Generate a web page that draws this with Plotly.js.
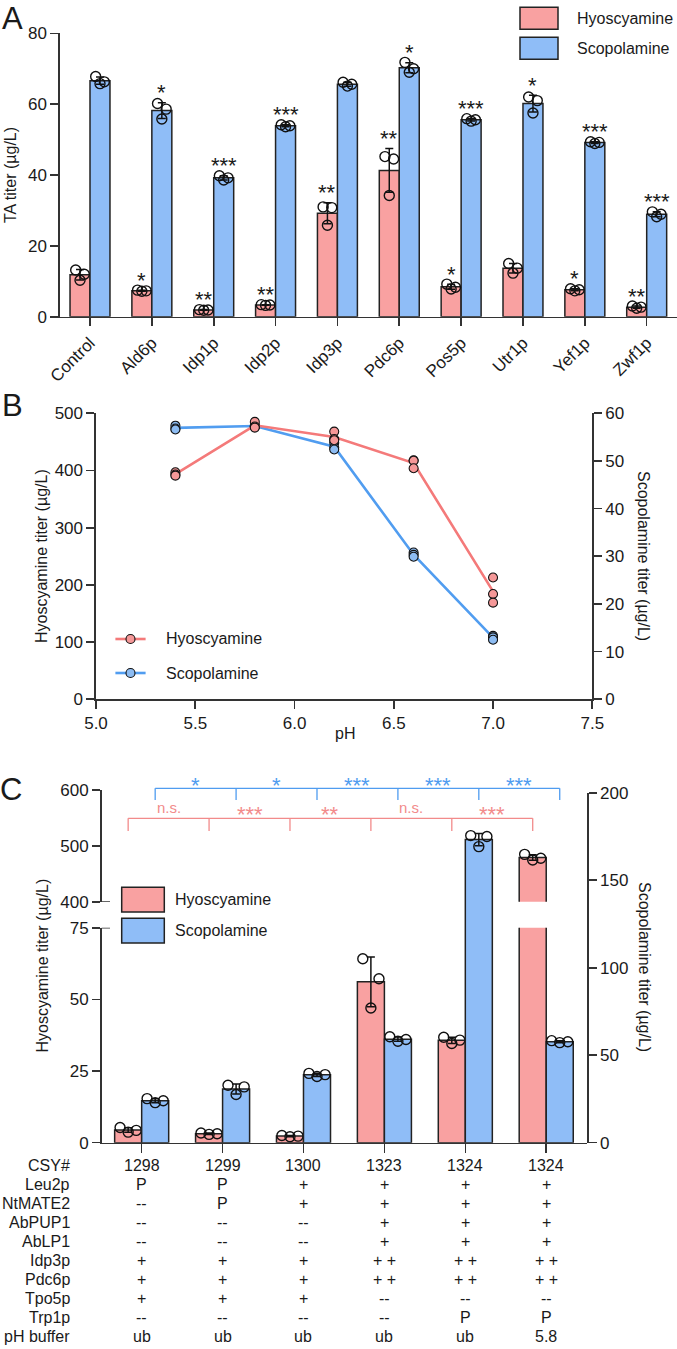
<!DOCTYPE html>
<html><head><meta charset="utf-8">
<script src="https://cdn.plot.ly/plotly-3.0.1.min.js"></script>
<style>html,body{margin:0;padding:0;background:#fff}</style>
</head><body><div id="chart" style="width:677px;height:1349px"></div>
<script>
// ---------------- Panel A data ----------------
const catsA = ['Control','Ald6p','Idp1p','Idp2p','Idp3p','Pdc6p','Pos5p','Utr1p','Yef1p','Zwf1p'];
const hyoA = [[13.2,12.0,10.3],[7.5,7.3,7.2],[2.0,1.9,1.8],[3.4,3.3,3.2],[31.0,30.8,25.8],[45.2,44.5,34.2],[9.2,8.3,7.8],[15.0,13.7,12.3],[7.9,7.6,7.3],[3.0,2.7,2.4]];
const scopA = [[67.8,66.3,65.8],[60.2,58.6,55.8],[39.8,39.2,38.6],[54.2,53.9,53.6],[66.2,65.6,65.1],[71.8,70.0,69.0],[55.9,55.6,55.2],[62.0,61.0,57.5],[49.4,49.2,48.9],[29.6,28.9,28.2]];
const sigHyoA = ['','*','**','**','**','**','*','','*','**'];
const sigScopA = ['','*','***','***','','*','***','*','***','***'];
const ticksA = [0,20,40,60,80];

// ---------------- Panel B data ----------------
const phB = [5.4,5.8,6.2,6.6,7.0];
const hyoB = [[397,393,391],[485,477,475],[468,455,453],[418,417,404],[213,184,169]];
const scopB = [[57.4,56.8,56.6],[57.5,57.3,57.2],[53.8,52.8,52.4],[30.8,30.3,29.9],[13.3,13.0,12.5]];
const ticksPH = [5.0,5.5,6.0,6.5,7.0,7.5];

// ---------------- Panel C data ----------------
const strainsC = ['1298','1299','1300','1323','1324','1324'];
const hyoC = [[5.3,4.3,3.7],[3.4,3.1,2.9],[2.5,2.3,2.1],[64.2,57.2,47.0],[36.8,35.8,34.6],[485,478,475]];
const scopC = [[25.2,24.0,22.9],[32.8,31.9,27.5],[39.6,38.9,37.8],[60.5,59.0,58.0],[175.5,175.0,169.2],[58.3,57.7,57.2]];
const sigHyoC = ['n.s.','***','**','n.s.','***'];
const sigScopC = ['*','*','***','***','***'];
const rowLabelsC = ['CSY#','Leu2p','NtMATE2','AbPUP1','AbLP1','Idp3p','Pdc6p','Tpo5p','Trp1p','pH buffer'];
const rowLeu2p   = ['P','P','+','+','+','+'];
const rowNtMATE2 = ['--','P','+','+','+','+'];
const rowAbPUP1  = ['--','--','--','+','+','+'];
const rowAbLP1   = ['--','--','--','+','+','+'];
const rowIdp3p   = ['+','+','+','+ +','+ +','+ +'];
const rowPdc6p   = ['+','+','+','+ +','+ +','+ +'];
const rowTpo5p   = ['+','+','+','--','--','--'];
const rowTrp1p   = ['--','--','--','--','P','P'];
const rowPH      = ['ub','ub','ub','ub','ub','5.8'];
const ticksCLow = [0,25,50,75];
const ticksCHigh = [400,500,600];
const ticksCRight = [0,50,100,150,200];

// ---------------- helpers ----------------
const W = 677, H = 1349;
const X = p => p / W, Y = p => 1 - p / H;
const FONT = 'Liberation Sans, Arial, Helvetica, sans-serif';
const mean = a => a.reduce((s, v) => s + v, 0) / a.length;
const sd = a => { const m = mean(a); return Math.sqrt(a.reduce((s, v) => s + (v - m) ** 2, 0) / (a.length - 1)); };
const COL = {hyo:'#f9a1a1', scop:'#8fbdf7', hyoLine:'#f47a7a', scopLine:'#519df0', hyoMk:'#f59898', scopMk:'#8dbcf2', edge:'#222', axis:'#333', txt:'#1a1a1a', sigRed:'#f28b8b', sigBlue:'#4f9cf0'};

const traces = [];
const shapes = [];
const anns = [];
function ann(text, xp, yp, o = {}) {
  anns.push(Object.assign({text, x: X(xp), y: Y(yp), xref:'paper', yref:'paper', showarrow:false,
    xanchor:'center', yanchor:'middle', font:{family:FONT, size:16, color:COL.txt}}, o));
}
function barTrace(xs, reps, width, offset, color, xa, ya) {
  return {type:'bar', x:xs, y:reps.map(mean), width:width, offset:offset, xaxis:xa, yaxis:ya,
    marker:{color:color, line:{color:COL.edge, width:1.5}},
    error_y:{type:'data', array:reps.map(sd), visible:true, color:'#111', thickness:1.5, width:4},
    hoverinfo:'skip', cliponaxis:true};
}
function ptsTrace(xs, reps, center, jit, xa, ya) {
  const px = [], py = [];
  reps.forEach((r, i) => r.forEach((v, j) => { px.push(xs[i] + center + jit[j % jit.length]); py.push(v); }));
  return {type:'scatter', mode:'markers', x:px, y:py, xaxis:xa, yaxis:ya, cliponaxis:true,
    marker:{symbol:'circle-open', size:10, color:'#111', line:{width:1.4, color:'#111'}}, hoverinfo:'skip'};
}
const axBase = {showline:true, linecolor:COL.axis, linewidth:1.6, ticks:'outside', ticklen:8, tickwidth:1.6,
  tickcolor:COL.axis, showgrid:false, zeroline:false, fixedrange:true,
  tickfont:{family:FONT, size:17, color:COL.txt}};

// ---------------- Panel A ----------------
const xA = catsA.map((_, i) => i);
const BWA = 0.323;
const jitA = [-0.07, 0.07, 0];
traces.push(barTrace(xA, hyoA, BWA, -BWA, COL.hyo, 'x', 'y'));
traces.push(barTrace(xA, scopA, BWA, 0, COL.scop, 'x', 'y'));
traces.push(ptsTrace(xA, hyoA, -BWA / 2, jitA, 'x', 'y'));
traces.push(ptsTrace(xA, scopA, BWA / 2, jitA, 'x', 'y'));
function topOf(r) { return Math.max(mean(r) + sd(r), Math.max(...r)); }
[[hyoA, sigHyoA, -BWA / 2], [scopA, sigScopA, BWA / 2]].forEach(([reps, sig, c]) => {
  reps.forEach((r, i) => {
    if (!sig[i]) return;
    anns.push({text:sig[i], x:xA[i] + c, y:topOf(r), xref:'x', yref:'y', showarrow:false,
      xanchor:'center', yanchor:'middle', yshift:10, font:{family:FONT, size:22, color:COL.txt}});
  });
});
ann('A', 12, 19, {font:{family:FONT, size:31, color:COL.txt}});
ann('TA titer (µg/L)', 11, 175, {textangle:-90});
// legend A
[[COL.hyo, 'Hyoscyamine', 7.3], [COL.scop, 'Scopolamine', 37.3]].forEach(([c, t, y0]) => {
  shapes.push({type:'rect', xref:'paper', yref:'paper', x0:X(520), x1:X(558), y0:Y(y0), y1:Y(y0 + 22),
    fillcolor:c, line:{color:COL.edge, width:1.5}});
  ann(t, 575, y0 + 11, {xanchor:'left'});
});

// ---------------- Panel B ----------------
const flatX = (xs, reps) => reps.flatMap((r, i) => r.map(() => xs[i]));
const flatY = reps => reps.flat();
traces.push({type:'scatter', mode:'lines', x:phB, y:scopB.map(mean), xaxis:'x2', yaxis:'y2',
  line:{color:COL.scopLine, width:2.6}, hoverinfo:'skip'});
traces.push({type:'scatter', mode:'markers', x:flatX(phB, scopB), y:flatY(scopB), xaxis:'x2', yaxis:'y2',
  marker:{size:9, color:COL.scopMk, line:{color:'#111', width:1.1}}, hoverinfo:'skip'});
traces.push({type:'scatter', mode:'lines', x:phB, y:hyoB.map(mean), xaxis:'x2', yaxis:'y3',
  line:{color:COL.hyoLine, width:2.6}, hoverinfo:'skip'});
traces.push({type:'scatter', mode:'markers', x:flatX(phB, hyoB), y:flatY(hyoB), xaxis:'x2', yaxis:'y3',
  marker:{size:9, color:COL.hyoMk, line:{color:'#111', width:1.1}}, hoverinfo:'skip'});
ann('B', 12, 405, {font:{family:FONT, size:31, color:COL.txt}});
ann('Hyoscyamine titer (µg/L)', 41, 556, {textangle:-90});
ann('Scopolamine titer (µg/L)', 644, 556, {textangle:90});
ann('pH', 345, 733);
[[COL.hyoLine, COL.hyoMk, 'Hyoscyamine', 639], [COL.scopLine, COL.scopMk, 'Scopolamine', 673]].forEach(([lc, mc, t, y]) => {
  shapes.push({type:'line', xref:'paper', yref:'paper', x0:X(115.4), x1:X(145.6), y0:Y(y), y1:Y(y), line:{color:lc, width:2.6}});
  shapes.push({type:'circle', xref:'paper', yref:'paper', xsizemode:'pixel', ysizemode:'pixel',
    xanchor:X(130.5), yanchor:Y(y), x0:-4.5, x1:4.5, y0:-4.5, y1:4.5, fillcolor:mc, line:{color:'#111', width:1.1}});
  ann(t, 164, y, {xanchor:'left'});
});

// ---------------- Panel C ----------------
const xC = strainsC.map((_, i) => i);
const BWC = 0.334;
const jitC = [-0.1, 0.1, 0];
traces.push(barTrace(xC, hyoC, BWC, -BWC, COL.hyo, 'x3', 'y4'));
traces.push(barTrace(xC, hyoC, BWC, -BWC, COL.hyo, 'x3', 'y5'));
traces.push(barTrace(xC, scopC, BWC, 0, COL.scop, 'x3', 'y6'));
traces.push(ptsTrace(xC, hyoC, -BWC / 2, jitC, 'x3', 'y4'));
traces.push(ptsTrace(xC, hyoC, -BWC / 2, jitC, 'x3', 'y5'));
traces.push(ptsTrace(xC, scopC, BWC / 2, jitC, 'x3', 'y6'));
ann('C', 11, 789, {font:{family:FONT, size:31, color:COL.txt}});
ann('Hyoscyamine titer (µg/L)', 41.5, 966, {textangle:-90});
ann('Scopolamine titer (µg/L)', 645, 967, {textangle:90});
// broken-axis marks
shapes.push({type:'line', xref:'paper', yref:'y5', x0:X(101.7), x1:X(110), y0:400, y1:400, line:{color:COL.axis, width:1.6}});
shapes.push({type:'line', xref:'paper', yref:'y4', x0:X(101.7), x1:X(110), y0:75, y1:75, line:{color:COL.axis, width:1.6}});
// significance brackets
function bracket(center, yLine, yTick, color, labels, labelY, size) {
  const n = xC.length;
  shapes.push({type:'line', xref:'x3', yref:'paper', x0:xC[0] + center, x1:xC[n - 1] + center, y0:Y(yLine), y1:Y(yLine), line:{color:color, width:1.3}});
  xC.forEach(x => shapes.push({type:'line', xref:'x3', yref:'paper', x0:x + center, x1:x + center, y0:Y(yLine), y1:Y(yTick), line:{color:color, width:1.3}}));
  labels.forEach((t, i) => anns.push({text:t, x:(xC[i] + xC[i + 1]) / 2 + center, y:Y(t === 'n.s.' ? labelY - 6 : labelY), xref:'x3', yref:'paper',
    showarrow:false, xanchor:'center', yanchor:'middle', font:{family:FONT, size:t === 'n.s.' ? 15 : size, color:color}}));
}
bracket(BWC / 2, 788.3, 800, COL.sigBlue, sigScopC, 785, 22);
bracket(-BWC / 2, 818.3, 831, COL.sigRed, sigHyoC, 814, 22);
// legend C
[[COL.hyo, 'Hyoscyamine', 887.3], [COL.scop, 'Scopolamine', 918.3]].forEach(([c, t, y0]) => {
  shapes.push({type:'rect', xref:'paper', yref:'paper', x0:X(121.7), x1:X(164.3), y0:Y(y0), y1:Y(y0 + 24.7),
    fillcolor:c, line:{color:COL.edge, width:1.5}});
  ann(t, 173.3, y0 + 12.4, {xanchor:'left'});
});
// table under panel C
const rowsC = [strainsC, rowLeu2p, rowNtMATE2, rowAbPUP1, rowAbLP1, rowIdp3p, rowPdc6p, rowTpo5p, rowTrp1p, rowPH];
rowsC.forEach((vals, r) => {
  const yp = 1165 + r * 19.1;
  ann(rowLabelsC[r], 72, yp, {xanchor:'right'});
  vals.forEach((v, i) => anns.push({text:v, x:xC[i], y:Y(yp), xref:'x3', yref:'paper', showarrow:false,
    xanchor:'center', yanchor:'middle', font:{family:FONT, size:16, color:COL.txt}}));
});

const layout = {
  width:W, height:H, margin:{l:0, r:0, t:0, b:0}, paper_bgcolor:'#fff', plot_bgcolor:'rgba(0,0,0,0)',
  showlegend:false, barmode:'overlay', font:{family:FONT, size:16, color:COL.txt},
  xaxis:Object.assign({}, axBase, {domain:[X(60), X(677)], range:[-0.485, 9.49], anchor:'y',
    tickmode:'array', tickvals:xA, ticktext:catsA, tickangle:-45}),
  yaxis:Object.assign({}, axBase, {domain:[Y(316.7), Y(33.3)], range:[0, 80], tickmode:'array', tickvals:ticksA, anchor:'x'}),
  xaxis2:Object.assign({}, axBase, {domain:[X(96), X(592.3)], range:[5, 7.5], tickmode:'array', tickvals:ticksPH,
    ticktext:ticksPH.map(v => v.toFixed(1)), anchor:'y2'}),
  yaxis2:Object.assign({}, axBase, {domain:[Y(699.3), Y(413.3)], range:[0, 60], dtick:10, side:'right', anchor:'x2'}),
  yaxis3:Object.assign({}, axBase, {range:[0, 500], dtick:100, overlaying:'y2', side:'left', anchor:'x2'}),
  xaxis3:Object.assign({}, axBase, {domain:[X(101.7), X(587)], range:[-0.494, 5.504], anchor:'y4',
    tickmode:'array', tickvals:xC, showticklabels:false, ticklen:9}),
  yaxis4:Object.assign({}, axBase, {domain:[Y(1142.7), Y(927.8)], range:[0, 75], tickmode:'array', tickvals:ticksCLow, anchor:'x3'}),
  yaxis5:Object.assign({}, axBase, {domain:[Y(901.7), Y(790.3)], range:[400, 600], tickmode:'array', tickvals:ticksCHigh, anchor:'x3'}),
  yaxis6:Object.assign({}, axBase, {domain:[Y(1142.7), Y(792.7)], range:[0, 200], tickmode:'array', tickvals:ticksCRight, side:'right', anchor:'x3'}),
  shapes:shapes, annotations:anns
};
Plotly.newPlot('chart', traces, layout, {staticPlot:true, displayModeBar:false});
</script></body></html>
